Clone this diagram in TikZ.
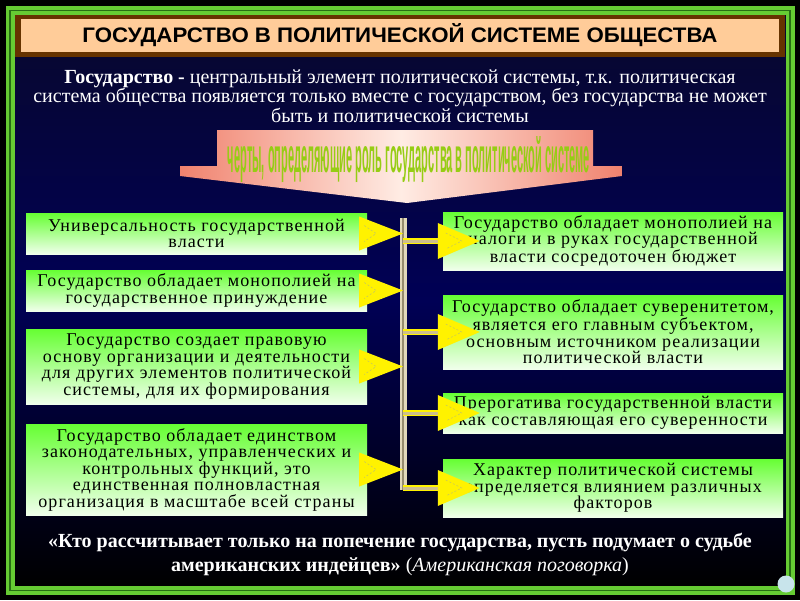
\documentclass[tikz,border=0pt]{standalone}
\usepackage{fontspec}
\usepackage{graphicx}
\setmainfont{Liberation Serif}
\newfontfamily\titlefont{Liberation Sans}
\newfontfamily\boxfont[LetterSpace=6]{Liberation Serif}
\usetikzlibrary{positioning,calc}

\definecolor{framegreen}{RGB}{102,204,51}
\definecolor{framedark}{RGB}{40,110,20}
\definecolor{barbrown}{RGB}{102,51,0}
\definecolor{peach}{RGB}{255,204,153}
\definecolor{panelnavy}{RGB}{0,0,85}
\definecolor{paneltop}{RGB}{8,8,45}
\definecolor{boxgreen}{RGB}{102,255,51}
\definecolor{boxwhite}{RGB}{240,255,235}
\definecolor{salmon}{RGB}{240,130,110}
\definecolor{palepink}{RGB}{255,236,228}
\definecolor{busbeige}{RGB}{205,190,140}
\definecolor{buscore}{RGB}{150,140,110}
\definecolor{wordgreen}{RGB}{150,205,20}
\definecolor{navblue}{RGB}{200,228,235}
\definecolor{ghostline}{RGB}{200,200,90}

\tikzset{
  feature/.style={rectangle, top color=boxgreen, bottom color=boxwhite, inner sep=0pt,
    align=center, text=black, font=\boxfont\fontsize{18}{16.5}\selectfont},
  leftbox/.style={feature, minimum width=341pt},
  rightbox/.style={feature, minimum width=340pt},
  busline/.style={draw=yellow, double=busbeige, line width=1.6pt, double distance=3pt},
  busbar/.style={draw=busbeige!60!white, double=buscore, line width=2.5pt, double distance=2pt},
  ytip/.style={fill=yellow},
  ghost/.style={draw=ghostline, dashed, line width=0.6pt, dash pattern=on 2pt off 2pt},
}

\begin{document}
\begin{tikzpicture}[x=1pt,y=-1pt]
    \useasboundingbox (0,0) rectangle (800,600);
    \fill[black] (0,0) rectangle (800,600);
    \shade[top color=paneltop, bottom color=black, middle color=panelnavy] (14,15) rectangle (786,586);
    \draw[framegreen, line width=9pt] (10,10.5) rectangle (790,590.5);
    \draw[framedark, line width=1.2pt] (10,10.5) rectangle (790,590.5);

    % title bar
    \fill[barbrown] (15,15) rectangle (785,57);
    \node(title)[fill=peach, minimum width=758pt, minimum height=33pt, inner sep=0pt]
        at (400,35.5) {\scalebox{1.06}[1]{\titlefont\bfseries\fontsize{21}{24}\selectfont ГОСУДАРСТВО В ПОЛИТИЧЕСКОЙ СИСТЕМЕ ОБЩЕСТВА}};

    \node(intro)[text=white, align=center, font=\fontsize{20}{19.5}\selectfont] at (400,96)
        {\textbf{Государство -} центральный элемент политической системы, т.к. политическая\\
         система общества появляется только вместе с государством, без государства не может\\
         быть и политической системы};

    % banner arrow
    \shade[left color=salmon, right color=salmon, middle color=palepink]
        (217,130) -- (593,130) -- (593,166) -- (622,166) -- (622,176) -- (407,203)
        -- (180,176) -- (180,166) -- (217,166) -- cycle;
    \node(banner)[text=wordgreen] at (409,160)
        {\resizebox{362pt}{36pt}{\titlefont\bfseries черты, определяющие роль государства в политической системе}};

    % left features
    \node(l1)[leftbox, minimum height=41pt] at (196.5,233.5) {Универсальность государственной\\власти};
    \node(l2)[leftbox, minimum height=41pt] at (196.5,290.5) {Государство обладает монополией на\\государственное принуждение};
    \node(l3)[leftbox, minimum height=75pt] at (196.5,366.5) {Государство создает правовую\\основу организации и деятельности\\для других элементов политической\\системы, для их формирования};
    \node(l4)[leftbox, minimum height=91pt] at (196.5,469.5) {Государство обладает единством\\законодательных, управленческих и\\контрольных функций, это\\единственная полновластная\\организация в масштабе всей страны};

    % right features
    \node(r1)[rightbox, minimum height=58pt] at (613,241) {Государство обладает монополией на\\налоги и в руках государственной\\власти сосредоточен бюджет};
    \node(r2)[rightbox, minimum height=74pt] at (613,332) {Государство обладает суверенитетом,\\является его главным субъектом,\\основным источником реализации\\политической власти};
    \node(r3)[rightbox, minimum height=40pt] at (613,413) {Прерогатива государственной власти\\как составляющая его суверенности};
    \node(r4)[rightbox, minimum height=58pt] at (613,488) {Характер политической системы\\определяется влиянием различных\\факторов};

    % bus
    \coordinate(bustop) at (403,218);
    \coordinate(busbot) at (403,490);
    \draw[busbar] (bustop) -- (busbot);

    \fill[ytip] ([xshift=-8pt,yshift=17pt]l1.east) -- (l1.east -| bustop) -- ([xshift=-8pt,yshift=-17pt]l1.east) -- cycle;
    \fill[ytip] ([xshift=-8pt,yshift=17pt]l2.east) -- (l2.east -| bustop) -- ([xshift=-8pt,yshift=-17pt]l2.east) -- cycle;
    \fill[ytip] ([xshift=-8pt,yshift=17pt]l3.east) -- (l3.east -| bustop) -- ([xshift=-8pt,yshift=-17pt]l3.east) -- cycle;
    \fill[ytip] ([xshift=-8pt,yshift=17pt]l4.east) -- (l4.east -| bustop) -- ([xshift=-8pt,yshift=-17pt]l4.east) -- cycle;
    \draw[ghost] ([xshift=-3pt,yshift=8pt]l1.east) -- ([xshift=9pt]l1.east) -- ([xshift=-3pt,yshift=-8pt]l1.east);
    \draw[ghost] ([xshift=-3pt,yshift=8pt]l2.east) -- ([xshift=9pt]l2.east) -- ([xshift=-3pt,yshift=-8pt]l2.east);
    \draw[ghost] ([xshift=-3pt,yshift=8pt]l3.east) -- ([xshift=9pt]l3.east) -- ([xshift=-3pt,yshift=-8pt]l3.east);
    \draw[ghost] ([xshift=-3pt,yshift=8pt]l4.east) -- ([xshift=9pt]l4.east) -- ([xshift=-3pt,yshift=-8pt]l4.east);

    \coordinate(r1b) at ([xshift=-5pt]r1.west);
    \coordinate(r2b) at ([xshift=-5pt]r2.west);
    \coordinate(r3b) at ([xshift=-5pt]r3.west);
    \coordinate(r4b) at ([xshift=-5pt]r4.west);
    \draw[busline] (bustop |- r1b) -- (r1b);
    \draw[busline] (bustop |- r2b) -- (r2b);
    \draw[busline] (bustop |- r3b) -- (r3b);
    \draw[busline] (bustop |- r4b) -- (r4b);
    \fill[ytip] ([yshift=18pt]r1b) -- ([xshift=42pt]r1b) -- ([yshift=-18pt]r1b) -- cycle;
    \fill[ytip] ([yshift=18pt]r2b) -- ([xshift=42pt]r2b) -- ([yshift=-18pt]r2b) -- cycle;
    \fill[ytip] ([yshift=18pt]r3b) -- ([xshift=42pt]r3b) -- ([yshift=-18pt]r3b) -- cycle;
    \fill[ytip] ([yshift=18pt]r4b) -- ([xshift=42pt]r4b) -- ([yshift=-18pt]r4b) -- cycle;
    \draw[ghost] ([xshift=8pt,yshift=8pt]r1b) -- ([xshift=24pt]r1b) -- ([xshift=8pt,yshift=-8pt]r1b);
    \draw[ghost] ([xshift=8pt,yshift=8pt]r2b) -- ([xshift=24pt]r2b) -- ([xshift=8pt,yshift=-8pt]r2b);
    \draw[ghost] ([xshift=8pt,yshift=8pt]r3b) -- ([xshift=24pt]r3b) -- ([xshift=8pt,yshift=-8pt]r3b);
    \draw[ghost] ([xshift=8pt,yshift=8pt]r4b) -- ([xshift=24pt]r4b) -- ([xshift=8pt,yshift=-8pt]r4b);

    % quote
    \node(quote)[text=white, align=center, font=\fontsize{20}{24}\selectfont] at (400,554)
        {\textbf{«Кто рассчитывает только на попечение государства, пусть подумает о судьбе}\\
         \textbf{американских индейцев»} (\textit{Американская поговорка})};

    \node(navbtn)[circle, fill=navblue, minimum size=17pt, inner sep=0pt] at (786,584) {};
\end{tikzpicture}
\end{document}
